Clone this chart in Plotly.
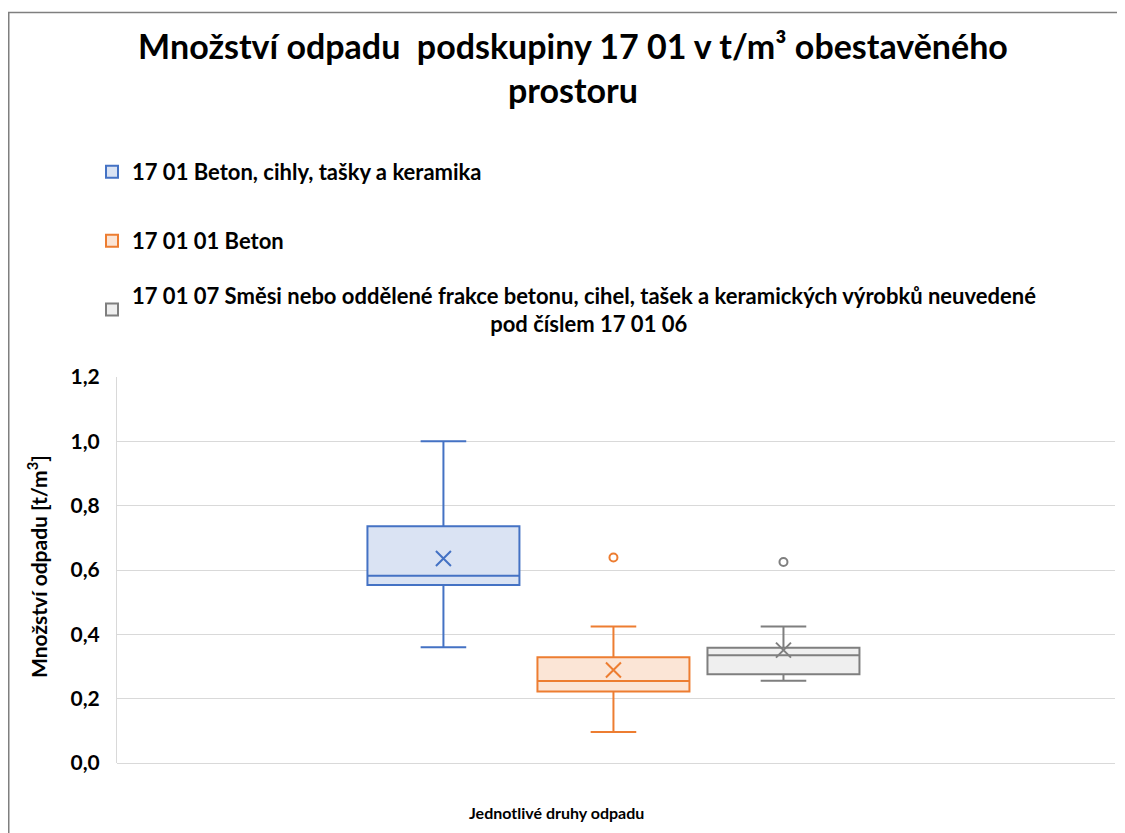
import plotly.graph_objects as go

# ---- data ----
series_names = [
    "17 01 Beton, cihly, tašky a keramika",
    "17 01 01 Beton",
    "17 01 07 Směsi nebo oddělené frakce betonu, cihel, tašek a keramických výrobků neuvedené",
]
legend_second_line = ["", "", "pod číslem 17 01 06"]
q1_values = [0.553, 0.222, 0.276]
median_values = [0.582, 0.255, 0.335]
q3_values = [0.736, 0.329, 0.358]
lower_whisker = [0.360, 0.096, 0.256]
upper_whisker = [1.000, 0.424, 0.424]
mean_values = [0.636, 0.289, 0.351]
outliers = [[], [0.639], [0.625]]
y_ticks = [0.0, 0.2, 0.4, 0.6, 0.8, 1.0, 1.2]

title_text = "Množství odpadu  podskupiny 17 01 v t/m³ obestavěného<br>prostoru"
x_title = "Jednotlivé druhy odpadu"
y_title = "Množství odpadu [t/m<sup>3</sup>]"

# ---- styles ----
line_colors = ["#4472C4", "#ED7D31", "#7F7F7F"]
fill_colors = ["#DAE3F3", "#FBE5D6", "#EFEFEF"]
FONT = "Lato"

W, H = 1117, 825
L, R, T, B = 109, 10, 369, 70
pw, ph = W - L - R, H - T - B

legend_ids = ["legend", "legend2", "legend3"]
legend_centers_y = [164, 233, 302]   # px from top of figure

fig = go.Figure()
for i, name in enumerate(series_names):
    label = "<b>" + name + "</b>"
    if legend_second_line[i]:
        pad = "\u00a0" * 67
        label = "<b>" + name + "<br>" + pad + legend_second_line[i] + "</b>"
    fig.add_trace(go.Box(
        x=[name],
        q1=[q1_values[i]], median=[median_values[i]], q3=[q3_values[i]],
        lowerfence=[lower_whisker[i]], upperfence=[upper_whisker[i]],
        name=label, legend=legend_ids[i],
        width=0.894, whiskerwidth=0.3,
        line=dict(color=line_colors[i], width=2),
        fillcolor=fill_colors[i],
        boxpoints=False, hoverinfo="skip",
    ))
    fig.add_trace(go.Scatter(
        x=[name], y=[mean_values[i]], mode="markers",
        marker=dict(symbol="x-thin-open", size=15, color=line_colors[i],
                    line=dict(color=line_colors[i], width=2)),
        showlegend=False, hoverinfo="skip",
    ))
    if outliers[i]:
        fig.add_trace(go.Scatter(
            x=[name] * len(outliers[i]), y=outliers[i], mode="markers",
            marker=dict(symbol="circle-open", size=8, color=line_colors[i],
                        line=dict(color=line_colors[i], width=2)),
            showlegend=False, hoverinfo="skip",
        ))

legend_style = dict(xref="container", yref="container", x=84 / W,
                    xanchor="left", yanchor="middle", orientation="v",
                    font=dict(family=FONT, size=22, color="#000000"),
                    bgcolor="rgba(0,0,0,0)")

fig.update_layout(
    width=W, height=H,
    margin=dict(l=L, r=R, t=T, b=B, autoexpand=False),
    paper_bgcolor="white", plot_bgcolor="white",
    separators=", ",
    font=dict(family=FONT, color="#000000", size=16),
    title=dict(text="<b>" + title_text + "</b>", x=565 / W, xref="container",
               xanchor="center", y=1 - 51 / H, yanchor="middle",
               yref="container",
               font=dict(family=FONT, size=34, color="#000000")),
    showlegend=True,
    legend=dict(legend_style, y=1 - legend_centers_y[0] / H),
    legend2=dict(legend_style, y=1 - legend_centers_y[1] / H),
    legend3=dict(legend_style, y=1 - legend_centers_y[2] / H),
    xaxis=dict(type="category", categoryorder="array",
               categoryarray=series_names,
               range=[-1.92, 3.95], showticklabels=False, ticks="",
               showgrid=False, zeroline=False, showline=False),
    yaxis=dict(range=[0, 1.2], tickvals=y_ticks, tickformat=".1f",
               showgrid=True, gridcolor="#D9D9D9", gridwidth=1,
               zeroline=True, zerolinecolor="#D9D9D9", zerolinewidth=1,
               showline=True, linecolor="#D9D9D9", linewidth=1,
               ticks="outside", ticklen=12, tickcolor="rgba(0,0,0,0)",
               tickfont=dict(family=FONT, size=21, weight="bold")),
    annotations=[
        dict(text="<b>" + x_title + "</b>", xref="paper", yref="paper",
             x=(548 - L) / pw, y=-49 / ph, xanchor="center", yanchor="middle",
             showarrow=False,
             font=dict(family=FONT, size=16, color="#000000")),
        dict(text="<b>" + y_title + "</b>", xref="paper", yref="paper",
             x=(29 - L) / pw, y=(H - B - 559) / ph, xanchor="center",
             yanchor="middle", textangle=-90, showarrow=False,
             font=dict(family=FONT, size=21, color="#000000")),
    ],
)

# outer chart border
fig.add_shape(type="rect", xref="paper", yref="paper",
              x0=(0.75 - L) / pw, x1=(W + 2 - L) / pw,
              y0=-(B + 5) / ph, y1=(H - 4.5 - B) / ph,
              line=dict(color="#7F7F7F", width=1.5), fillcolor="rgba(0,0,0,0)",
              layer="below")

fig.write_html("out.html")
